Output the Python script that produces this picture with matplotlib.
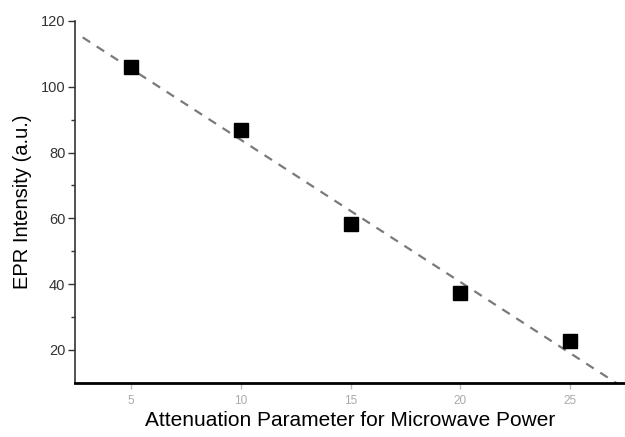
import matplotlib.pyplot as plt
import numpy as np

plt.rcParams['font.family'] = ['Liberation Sans', 'DejaVu Sans']

# attenuation setting vs. measured EPR signal
atten = [5, 10, 15, 20, 25]
intensity = [106, 87, 58.3, 37.2, 22.8]

x_ticks = [5, 10, 15, 20, 25]
y_ticks = [20, 40, 60, 80, 100, 120]

fig = plt.figure(figsize=(6.25, 4.37), dpi=100)
ax = fig.add_axes([0.12, 0.124, 0.88, 0.828])

# linear fit drawn as dashed guide
k, b = np.polyfit(atten, intensity, 1)
xf = np.array([2.8, 27.3])
ax.plot(xf, k * xf + b, ls=(0, (4, 3.5)), color='#7a7a7a', lw=1.6, zorder=1)

ax.plot(atten, intensity, 's', color='black', ms=10, zorder=2)

ax.set_xlim(2.45, 27.5)
ax.set_ylim(10, 120)
ax.set_xticks(x_ticks)
ax.set_yticks(y_ticks)
ax.set_yticks([30, 50, 70, 90], minor=True)

for s in ['top', 'right']:
    ax.spines[s].set_visible(False)
ax.spines['left'].set_color('#333333')
ax.spines['left'].set_linewidth(1.2)
ax.spines['bottom'].set_linewidth(2)

ax.tick_params(axis='y', direction='out', length=5, width=1, color='#333333',
               labelsize=10.5, labelcolor='#333333', pad=2)
ax.tick_params(axis='y', which='minor', length=3, width=1, color='#333333')
ax.tick_params(axis='x', direction='out', length=4, width=1, color='#bbbbbb',
               labelsize=8.5, labelcolor='#aaaaaa', pad=5)

ax.set_xlabel('Attenuation Parameter for Microwave Power', fontsize=15, labelpad=3)
ax.set_ylabel('EPR Intensity (a.u.)', fontsize=14.5, labelpad=6)

fig.savefig('out.png')
